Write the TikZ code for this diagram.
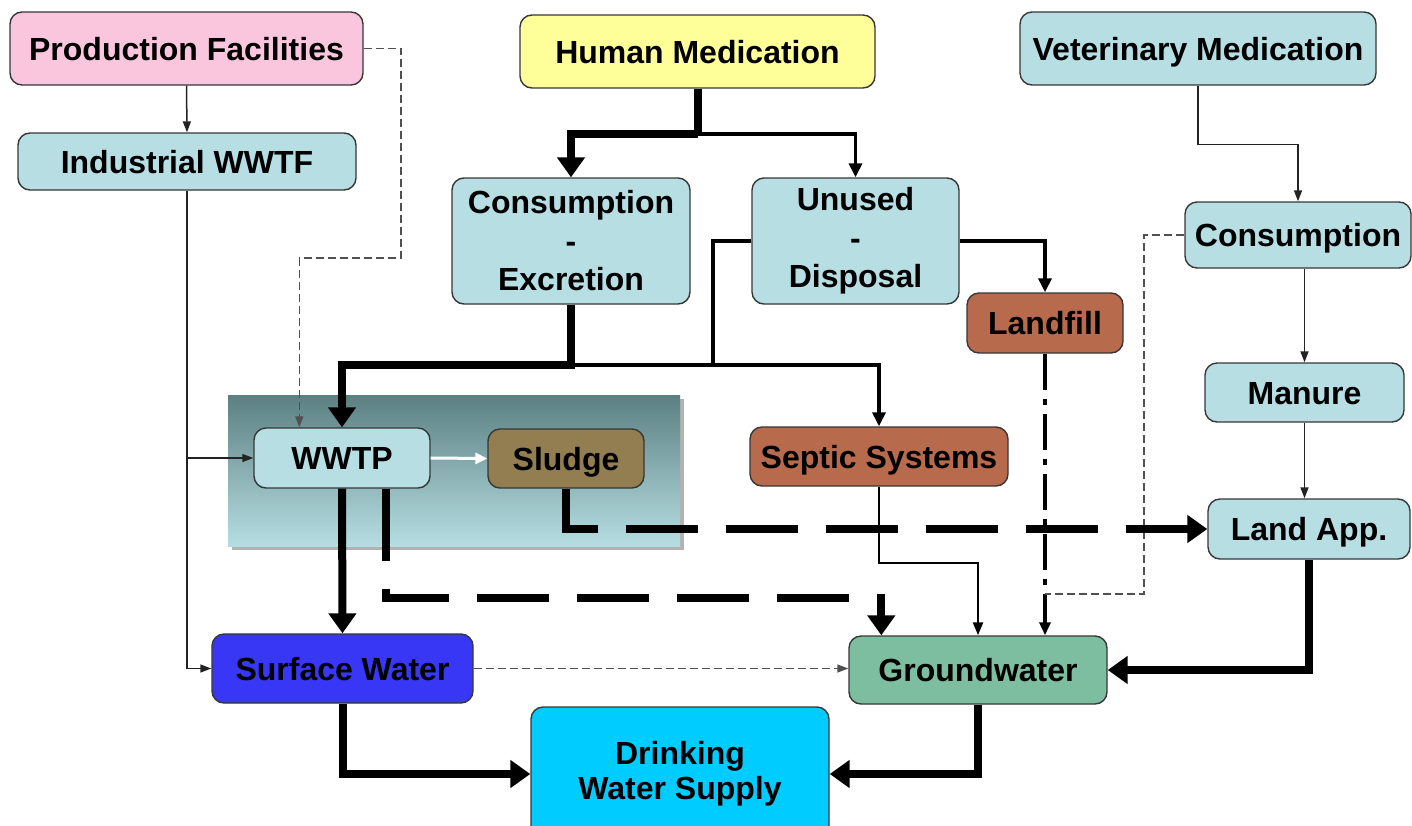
\documentclass[tikz,border=0pt]{standalone}
\usepackage{fontspec}
\setmainfont{Liberation Sans}
\usetikzlibrary{arrows.meta,calc,shadows}
\definecolor{tealbox}{RGB}{183,222,227}
\definecolor{pinkbox}{RGB}{250,198,222}
\definecolor{yellowbox}{RGB}{255,255,153}
\definecolor{brownbox}{RGB}{184,106,76}
\definecolor{olivebox}{RGB}{146,126,80}
\definecolor{bluebox}{RGB}{55,55,245}
\definecolor{greenbox}{RGB}{126,190,160}
\definecolor{cyanbox}{RGB}{0,204,255}
\definecolor{boxline}{RGB}{55,55,55}
\definecolor{linegray}{RGB}{35,35,35}
\definecolor{dashgray}{RGB}{80,80,80}
\definecolor{bgtop}{RGB}{92,128,130}
\definecolor{bgbot}{RGB}{182,222,226}
\begin{document}
\begin{tikzpicture}[x=1pt,y=-1pt,
  box/.style={draw=boxline, line width=1.4pt, rounded corners=12pt, inner sep=0pt,
    font=\fontsize{32}{38.5}\selectfont\bfseries, align=center, text=black},
  one/.style={text height=23pt, text depth=0pt},
  thickarr/.style={line width=8pt, draw=black, -{Triangle[length=20pt,width=27pt]}},
  thickline/.style={line width=8pt, draw=black},
  thickdash/.style={line width=8pt, draw=black, dash pattern=on 72pt off 28pt, -{Triangle[length=20pt,width=27pt]}},
  medarr/.style={line width=3.8pt, draw=black, -{Triangle[length=14pt,width=13pt]}},
  medline/.style={line width=3.8pt, draw=black},
  septarr/.style={line width=2.4pt, draw=black, -{Triangle[length=13pt,width=10pt]}},
  thinarr/.style={line width=1.5pt, draw=linegray, -{Triangle[length=11pt,width=8pt]}},
  thindash/.style={line width=1.5pt, draw=dashgray, dash pattern=on 8pt off 4pt},
  dashdotarr/.style={line width=4.5pt, draw=black, dash pattern=on 36pt off 9pt on 6pt off 9pt, -{Triangle[length=13pt,width=11pt]}},
  whitearr/.style={line width=3pt, draw=white, -{Triangle[length=12pt,width=11pt]}}
]
\useasboundingbox (0,0) rectangle (1412,825);
\clip (0,0) rectangle (1412,825);
\fill[white] (0,0) rectangle (1412,825);

% group background of WWTP / Sludge
\path[top color=bgtop, bottom color=bgbot, drop shadow={shadow xshift=4pt, shadow yshift=-4pt, fill=black, opacity=0.3}]
  (228,395) rectangle (680,546);

% nodes
\node[box, one, fill=pinkbox, minimum width=353pt, minimum height=73pt] (pf) at (186.5,48.5) {Production Facilities};
\node[box, one, fill=tealbox, minimum width=338pt, minimum height=57pt] (iw) at (187,161.5) {Industrial WWTF};
\node[box, one, fill=yellowbox, minimum width=355pt, minimum height=73pt] (hm) at (697.5,51.5) {Human Medication};
\node[box, one, fill=tealbox, minimum width=356pt, minimum height=73pt] (vm) at (1198,48.5) {Veterinary Medication};
\node[box, fill=tealbox, minimum width=238pt, minimum height=126pt] (ce) at (571,241) {Consumption\\-\\Excretion};
\node[box, fill=tealbox, minimum width=207pt, minimum height=126pt] (ud) at (855.5,241) {Unused\\-\\Disposal};
\node[box, one, fill=tealbox, minimum width=226pt, minimum height=66pt] (vc) at (1298,235) {Consumption};
\node[box, one, fill=brownbox, minimum width=156pt, minimum height=60pt] (lf) at (1045,323) {Landfill};
\node[box, one, fill=tealbox, minimum width=199pt, minimum height=59pt] (mn) at (1304.5,392.5) {Manure};
\node[box, one, fill=tealbox, minimum width=176pt, minimum height=60pt] (ww) at (342,458) {WWTP};
\node[box, one, fill=olivebox, minimum width=156pt, minimum height=59pt] (sl) at (566,458.5) {Sludge};
\node[box, one, fill=brownbox, minimum width=258pt, minimum height=59pt] (ss) at (879,456.5) {Septic Systems};
\node[box, one, fill=tealbox, minimum width=202pt, minimum height=60pt] (la) at (1309,529) {Land App.};
\node[box, one, fill=bluebox, minimum width=261pt, minimum height=69pt] (sw) at (342.5,668.5) {Surface Water};
\node[box, one, fill=greenbox, minimum width=258pt, minimum height=68pt] (gw) at (978,670) {Groundwater};
\node[box, fill=cyanbox, minimum width=298pt, minimum height=134pt, font=\fontsize{32}{35}\selectfont\bfseries] (dw) at (680,774) {Drinking\\Water Supply};

% helper coordinates
\coordinate (hmj) at ($(hm.south)+(0,45)$);
\coordinate (cej) at (571,365);
\coordinate (udj) at (713,365);
\coordinate (pfd) at (401,258);
\coordinate (wwin) at ($(ww.north west)+(46,0)$);
\coordinate (wwo) at ($(ww.south)+(44,0)$);
\coordinate (gwin) at ($(gw.north west)+(33,0)$);
\coordinate (vcd) at (1144,594);
\coordinate (lfd) at (1045,594);

% connectors
\draw[thinarr] (pf.south) -- (iw.north);
\draw[thindash, -{Triangle[length=11pt,width=8pt]}] (pf.east) -| (pfd) -| (wwin);
\draw[thinarr] (iw.south) |- (sw.west);
\draw[thinarr] (iw.south |- ww.west) -- (ww.west);

\draw[thickline] (hm.south) -- (hmj);
\draw[thickarr] (hmj) -| (ce.north);
\draw[medarr] (hmj) -| (ud.north);

\draw[medarr] (cej) -| (ss.north);
\draw[medline] (ud.west) -| (udj);
\draw[thickarr] (ce.south) -- (cej) -| (ww.north);

\draw[medarr] (ud.east) -| (lf.north);
\draw[dashdotarr] (lf.south) -- (lf.south |- gw.north);

\draw[thinarr] (vm.south) -- ++(0,59) -| (vc.north);
\draw[thindash] (vc.west) -| (vcd) -- (lfd);
\draw[thinarr] (mn.north |- vc.south) -- (mn.north);
\draw[thinarr] (mn.south) -- (mn.south |- la.north);

\draw[whitearr] (ww.east) -- (sl.west);
\draw[thickdash] (sl.south) |- (la.west);
\draw[thickarr] (ww.south) -- (sw.north);
\draw[thickdash] (wwo) -- ++(0,109) -| (gwin);
\draw[septarr] (ss.south) -- ++(0,76) -| (gw.north);
\draw[thickarr] (la.south) |- (gw.east);
\draw[thindash, -{Triangle[length=11pt,width=8pt]}] (sw.east) -- (sw.east -| gw.west);
\draw[thickarr] (sw.south) |- (dw.west);
\draw[thickarr] (gw.south) |- (dw.east);
\end{tikzpicture}
\end{document}
